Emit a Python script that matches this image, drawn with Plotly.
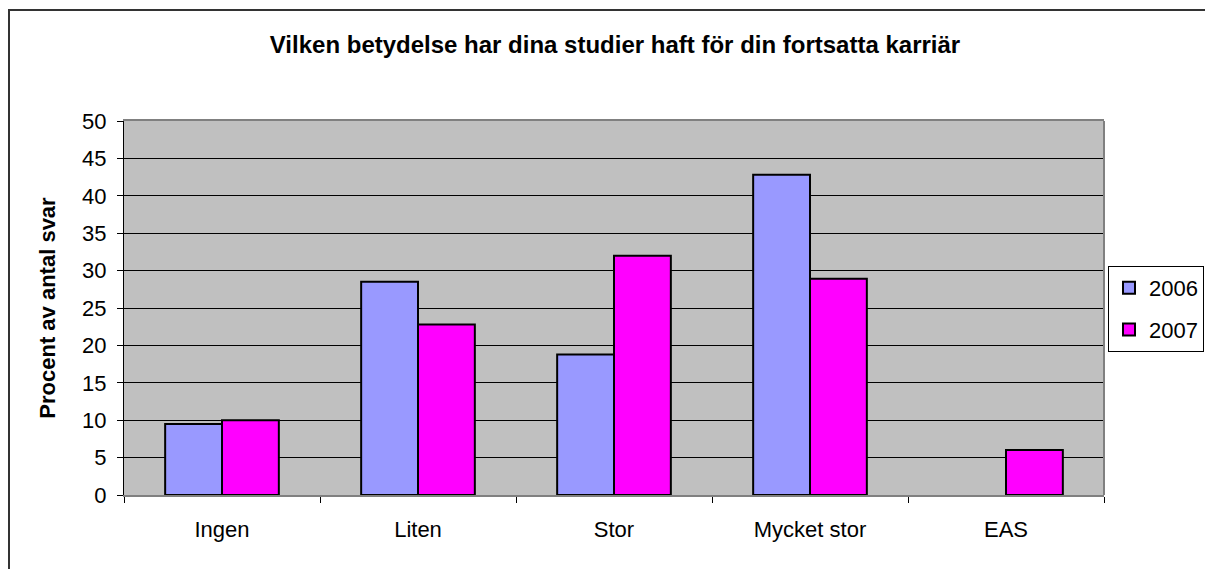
import plotly.graph_objects as go

categories = ["Ingen", "Liten", "Stor", "Mycket stor", "EAS"]
values_2006 = [9.5, 28.5, 18.8, 42.8, None]
values_2007 = [10.0, 22.8, 32.0, 28.9, 6.0]
series_names = ["2006", "2007"]
colors = ["#9999FF", "#FF00FF"]

FONT = "Liberation Sans, Arial, sans-serif"

fig = go.Figure()
for name, vals, col in zip(series_names, [values_2006, values_2007], colors):
    fig.add_trace(go.Bar(
        x=categories, y=vals, name=name, legendgroup=name,
        marker=dict(color=col, line=dict(color="black", width=2)),
    ))

# page body has an 8px margin, so figure coordinates are offset by 8px
W, H = 1205, 561
L, T = 116, 113
R, B = 109, 74
pw, ph = W - L - R, H - T - B

fig.update_layout(
    width=W, height=H,
    margin=dict(l=L, r=R, t=T, b=B, autoexpand=False),
    paper_bgcolor="white",
    plot_bgcolor="#C0C0C0",
    barmode="group",
    bargap=0.42,
    bargroupgap=0,
    font=dict(family=FONT, size=22, color="black"),
    title=dict(
        text="<b>Vilken betydelse har dina studier haft för din fortsatta karriär</b>",
        x=607 / W, xanchor="center", xref="container",
        y=1 - 37 / H, yanchor="middle", yref="container",
        font=dict(family=FONT, size=24, color="black"),
    ),
    legend=dict(
        x=(1100 - L) / pw, xanchor="left",
        y=(H - B - 301) / ph, yanchor="middle",
        bgcolor="white", bordercolor="black", borderwidth=1,
        font=dict(family=FONT, size=22),
        traceorder="grouped",
        tracegroupgap=10,
        itemwidth=30,
    ),
    showlegend=True,
)

fig.update_xaxes(
    showline=True, linecolor="#808080", linewidth=2, mirror=True,
    ticks="outside", tickson="boundaries", ticklen=6, tickcolor="black",
    ticklabelstandoff=14,
    tickfont=dict(family=FONT, size=22),
    showgrid=False,
)
fig.update_yaxes(
    range=[0, 50], dtick=5,
    showline=True, linecolor="black", linewidth=1, mirror=False,
    ticks="outside", ticklen=6, tickcolor="black",
    ticklabelstandoff=6,
    showgrid=True, gridcolor="black", gridwidth=1,
    tickfont=dict(family=FONT, size=22),
    title=dict(text="<b>Procent av antal svar</b>", font=dict(family=FONT, size=22), standoff=20),
    zeroline=False,
)

# right plot border (gray)
fig.add_shape(type="line", xref="paper", yref="paper", x0=1, x1=1, y0=0, y1=1,
              line=dict(color="#808080", width=2))
# outer chart frame
fig.add_shape(type="rect", xref="paper", yref="paper",
              x0=(1 - L) / pw, x1=(W + 20 - L) / pw,
              y0=(H - B - (H + 20)) / ph, y1=(H - B - 2) / ph,
              line=dict(color="#333333", width=2), layer="below")

fig.write_html("out.html")
